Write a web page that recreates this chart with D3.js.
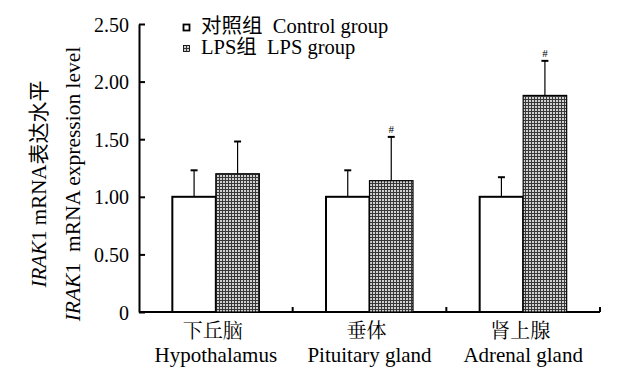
<!DOCTYPE html>
<html><head><meta charset="utf-8">
<script src="https://cdn.jsdelivr.net/npm/d3@7"></script>
<style>
body{margin:0;background:#fff;}
text{font-family:"Liberation Serif","Times New Roman","Noto Sans CJK SC",serif;fill:#000;white-space:pre;}
</style></head>
<body><svg id="chart" width="639" height="371"></svg>
<script>
const categoriesCN = ["下丘脑", "垂体", "肾上腺"];
const categoriesEN = ["Hypothalamus", "Pituitary gland", "Adrenal gland"];
const seriesNames = ["对照组\u00a0\u00a0Control group", "LPS组\u00a0\u00a0LPS group"];
const controlValues = [1.00, 1.00, 1.00];
const controlErrors = [0.23, 0.23, 0.17];
const lpsValues = [1.20, 1.14, 1.88];
const lpsErrors = [0.28, 0.38, 0.30];
const lpsMarks = ["", "#", "#"];
const yTicks = [0, 0.5, 1.0, 1.5, 2.0, 2.5];
const yTickLabels = ["0", "0.50", "1.00", "1.50", "2.00", "2.50"];

const svg = d3.select("#chart");
const mLeft = 139, mRight = 600, mTop = 24, mBottom = 312;

const defs = svg.append("defs");
const pat = defs.append("pattern").attr("id", "chk").attr("patternUnits", "userSpaceOnUse")
  .attr("width", 3).attr("height", 3);
pat.append("rect").attr("width", 3).attr("height", 3).attr("fill", "#d0d0d0");
pat.append("rect").attr("width", 3).attr("height", 1).attr("fill", "#383838");
pat.append("rect").attr("width", 1).attr("height", 3).attr("fill", "#383838");

const x0 = d3.scaleBand().domain(d3.range(categoriesEN.length)).range([mLeft, mRight]).padding(0);
const y = d3.scaleLinear().domain([0, 2.5]).range([mBottom, mTop]);
const barW = 43.5;

// axes
const yAxis = d3.axisLeft(y).tickValues(yTicks).tickFormat((d, i) => yTickLabels[i])
  .tickSizeInner(-6).tickSizeOuter(0).tickPadding(10);
const gy = svg.append("g").attr("transform", `translate(${mLeft},0)`).call(yAxis);
gy.select(".domain").attr("stroke-width", 2);
gy.selectAll(".tick line").attr("stroke-width", 2);
gy.selectAll(".tick text").style("font-size", "20px").attr("x", -10).attr("dy", "0.35em");

const gx = svg.append("g").attr("transform", `translate(0,${mBottom})`);
gx.append("line").attr("x1", mLeft).attr("x2", mRight).attr("stroke", "#000").attr("stroke-width", 2);
const bounds = x0.domain().map(i => x0(i) + x0.bandwidth());
gx.selectAll("line.tk").data(bounds).enter().append("line").attr("class", "tk")
  .attr("x1", d => d).attr("x2", d => d).attr("y1", 0).attr("y2", -5)
  .attr("stroke", "#000").attr("stroke-width", 2);

// category labels
x0.domain().forEach(i => {
  const cx = x0(i) + x0.bandwidth() / 2;
  svg.append("text").attr("x", cx - 3).attr("y", 338).attr("text-anchor", "middle")
    .style("font-size", "20px").style("font-family", "'Noto Serif CJK SC','Noto Sans CJK SC',serif").text(categoriesCN[i]);
  svg.append("text").attr("x", cx).attr("y", 362).attr("text-anchor", "middle")
    .style("font-size", "21px").text(categoriesEN[i]);
});

// bars
const g = svg.append("g");
x0.domain().forEach(i => {
  const cx = x0(i) + x0.bandwidth() / 2;
  const groups = [
    {v: controlValues[i], e: controlErrors[i], fill: "#fff", sw: 2, xs: cx - barW, m: ""},
    {v: lpsValues[i], e: lpsErrors[i], fill: "url(#chk)", sw: 1.2, xs: cx, m: lpsMarks[i]}
  ];
  groups.forEach(b => {
    const mid = b.xs + barW / 2;
    g.append("line").attr("x1", mid).attr("x2", mid).attr("y1", y(b.v)).attr("y2", y(b.v + b.e))
      .attr("stroke", "#000").attr("stroke-width", 1.2);
    g.append("line").attr("x1", mid - 3.5).attr("x2", mid + 3.5).attr("y1", y(b.v + b.e)).attr("y2", y(b.v + b.e))
      .attr("stroke", "#000").attr("stroke-width", 2);
    g.append("rect").attr("x", b.xs).attr("y", y(b.v)).attr("width", barW).attr("height", y(0) - y(b.v))
      .attr("fill", b.fill).attr("stroke", "#000").attr("stroke-width", b.sw);
    if (b.m) {
      g.append("text").attr("x", mid).attr("y", y(b.v + b.e) - 4).attr("text-anchor", "middle")
        .style("font-size", "11px").text(b.m);
    }
  });
});

// legend
const leg = svg.append("g");
[0, 1].forEach(i => {
  const yy = 33 + i * 21;
  leg.append("rect").attr("x", 183.5).attr("y", yy - 8.5).attr("width", 6).attr("height", 6)
    .attr("fill", i === 0 ? "#fff" : "url(#chk)").attr("stroke", "#000").attr("stroke-width", i === 0 ? 1.8 : 0.8);
  leg.append("text").attr("x", 201).attr("y", yy).style("font-size", "20.5px").text(seriesNames[i]);
});

// y title
const cy = 184;
svg.append("text").attr("transform", `translate(46,${cy}) rotate(-90)`).attr("text-anchor", "middle")
  .style("font-size", "21px")
  .html('<tspan font-style="italic">IRAK</tspan>1 mRNA表达水平');
svg.append("text").attr("transform", `translate(80,${cy}) rotate(-90)`).attr("text-anchor", "middle")
  .style("font-size", "21.5px")
  .html('<tspan font-style="italic">IRAK</tspan>1\u00a0\u00a0mRNA expression level');
</script></body></html>
